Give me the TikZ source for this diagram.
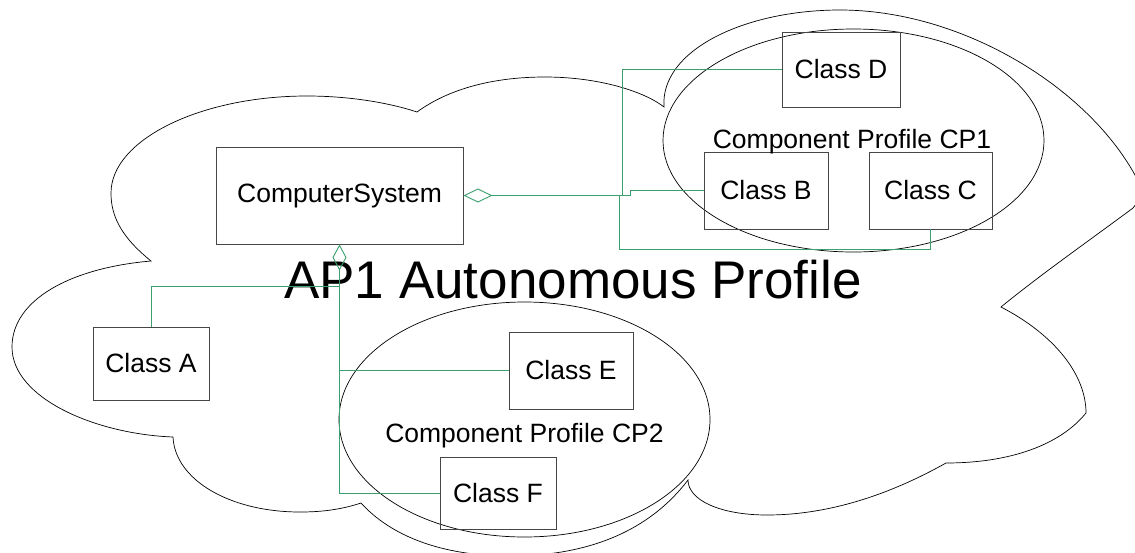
\documentclass[tikz,border=0pt]{standalone}
\usepackage{fontspec}
\setmainfont{Liberation Sans}
\usetikzlibrary{arrows.meta}
\definecolor{conngreen}{RGB}{60,160,110}
\definecolor{boxgray}{RGB}{70,70,70}
\tikzset{
  cloudline/.style={draw=black, line width=0.7pt},
  classbox/.style={draw=boxgray, line width=0.9pt, inner sep=0pt, font=\fontsize{26.5}{30}\selectfont},
  lbl/.style={inner sep=0pt, anchor=base, font=\fontsize{26.5}{30}\selectfont},
  conn/.style={draw=conngreen, line width=0.9pt},
  aggh/.style={{Diamond[open, length=29pt, width=14pt, line width=0.9pt]}-},
  aggv/.style={{Diamond[open, length=26pt, width=14pt, line width=0.9pt]}-}
}
\begin{document}
\begin{tikzpicture}[x=1pt, y=-1pt]
\useasboundingbox (0,0) rectangle (1135,552);
% cloud (AP1)
\draw[cloudline] (151,261)
 .. controls (120,236) and (111,215) .. (111,193)
 .. controls (111,140) and (200,96) .. (307,96)
 .. controls (350,96) and (390,103) .. (417,112)
 .. controls (450,88) and (495,77) .. (545,77)
 .. controls (600,77) and (645,92) .. (664,107)
 .. controls (660,50) and (745,10) .. (840,10)
 .. controls (960,10) and (1085,85) .. (1135,175)
 .. controls (1142,188) and (1140,200) .. (1133,208)
 .. controls (1090,240) and (1040,275) .. (1001,307)
 .. controls (1055,335) and (1086,375) .. (1086,413)
 .. controls (1060,445) and (1010,463) .. (946,463)
 .. controls (880,500) and (820,515) .. (767,515)
 .. controls (720,515) and (688,500) .. (688,480)
 .. controls (650,530) and (590,556) .. (510,556)
 .. controls (440,556) and (390,535) .. (361,503)
 .. controls (340,510) and (320,512) .. (300,512)
 .. controls (230,512) and (175,480) .. (173,437)
 .. controls (95,434) and (12,398) .. (12,347)
 .. controls (12,300) and (70,268) .. (151,261) -- cycle;
% component profile ellipses
\draw[cloudline] (853.5,140.5) ellipse [x radius=190.5pt, y radius=111.5pt];
\draw[cloudline] (524.5,419.5) ellipse [x radius=185.5pt, y radius=117.5pt];
% boxes
\node[classbox, minimum width=247pt, minimum height=97pt] (cs) at (339.5,195.5) {ComputerSystem};
\node[classbox, minimum width=118pt, minimum height=75pt] (D) at (841,69.5) {Class D};
\node[classbox, minimum width=124pt, minimum height=77pt] (B) at (766,190.5) {Class B};
\node[classbox, minimum width=123pt, minimum height=77pt] (C) at (930.5,190.5) {Class C};
\node[classbox, minimum width=116pt, minimum height=73pt] (A) at (151,363.5) {Class A};
\node[classbox, minimum width=124pt, minimum height=77pt] (E) at (571,370.5) {Class E};
\node[classbox, minimum width=116pt, minimum height=72pt] (F) at (498,493) {Class F};
% labels
\node[lbl] (cp1) at (852,148.3) {Component Profile CP1};
\node[lbl] (cp2) at (524.5,442) {Component Profile CP2};
\node[inner sep=0pt, anchor=base, font=\fontsize{53}{60}\selectfont] (ap1) at (573,298) {AP1 Autonomous Profile};
% connector junctions
\coordinate (j1) at (622,195.5);
\coordinate (jb) at (630,195.5);
\coordinate (jc) at (619,195.5);
\coordinate (jc2) at (619,249);
\coordinate (ja) at (339.5,286);
\coordinate (je) at (339.5,370.5);
\coordinate (jf) at (339.5,493);
% connectors from the right diamond
\draw[conn, aggh] (cs.east) -- (j1) |- (D.west);
\draw[conn] (j1) -- (jb) |- (B.west);
\draw[conn] (jc) -- (jc2) -| (C.south);
% connectors from the bottom diamond
\draw[conn, aggv] (cs.south) -- (jf) -- (F.west);
\draw[conn] (ja) -| (A.north);
\draw[conn] (je) -- (E.west);
\end{tikzpicture}
\end{document}
